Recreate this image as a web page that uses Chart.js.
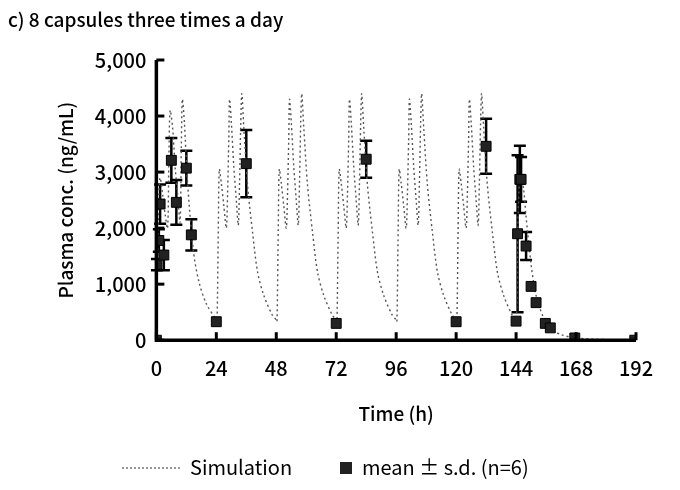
<!DOCTYPE html>
<html>
<head>
<meta charset="utf-8">
<script src="https://cdn.jsdelivr.net/npm/chart.js"></script>
<style>
  html, body { margin: 0; padding: 0; background: #fff; }
  #wrap { width: 680px; height: 490px; position: relative; }
</style>
</head>
<body>
<div id="wrap"><canvas id="pk"></canvas></div>
<script>
// Simulation, first day (h, ng/mL)
const simDay1Time = [0, 0.5, 1, 1.5, 2.5, 3.5, 4.5, 5, 5.5, 6.5, 7.5, 8.5, 9.5, 10, 10.4, 11.2, 12.5, 14.8, 17, 20, 24];
const simDay1Conc = [0, 1400, 2600, 2900, 2600, 2250, 2000, 3200, 4100, 3800, 3100, 2600, 2100, 3500, 4300, 3900, 2800, 1600, 1050, 650, 360];
// Simulation, repeated days 2-6 (time relative to day start)
const simDayTime = [0.3, 0.8, 1.2, 2, 3, 4, 4.5, 5, 5.3, 6, 7, 8, 8.8, 9.3, 9.8, 10.2, 11, 12.5, 14.5, 16.5, 19, 22.4, 24];
const simDayConc = [330, 2000, 3050, 2800, 2400, 2000, 2600, 3600, 4300, 3900, 3100, 2500, 2050, 2800, 3900, 4400, 3800, 2770, 1930, 1220, 800, 450, 360];
const simDayStarts = [24, 48, 72, 96, 120];
// Simulation, last day (absolute time)
const simTailTime = [144.5, 145, 145.8, 147, 148, 150, 152, 155, 158, 162, 168, 180, 192];
const simTailConc = [1500, 2500, 2950, 2700, 2200, 1350, 800, 400, 200, 100, 40, 10, 0];

// Observed mean ± s.d. (n=6)
const obsTime = [0, 0.25, 1, 1.5, 3, 6, 8, 12, 14, 24, 36, 72, 84, 120, 132, 144, 144.6, 145.5, 146, 148, 150, 152, 155.7, 157.7, 167.5, 191.5];
const obsMean = [0, 1350, 1780, 2430, 1520, 3210, 2460, 3070, 1880, 330, 3150, 300, 3230, 330, 3460, 340, 1900, 2870, 2870, 1680, 960, 670, 300, 220, 40, 0];
const obsSd = [0, 100, 200, 350, 270, 400, 400, 310, 280, 0, 600, 0, 330, 0, 490, 0, 1400, 600, 400, 250, 0, 0, 0, 0, 0, 0];

const xTicks = [0, 24, 48, 72, 96, 120, 144, 168, 192];
const yTicks = [0, 1000, 2000, 3000, 4000, 5000];

const simPoints = simDay1Time.map((t, i) => ({ x: t, y: simDay1Conc[i] }));
simDayStarts.forEach(d => {
  simDayTime.forEach((t, i) => simPoints.push({ x: d + t, y: simDayConc[i] }));
});
simTailTime.forEach((t, i) => simPoints.push({ x: t, y: simTailConc[i] }));

const obsPoints = obsTime.map((t, i) => ({ x: t, y: obsMean[i], sd: obsSd[i] }));

const FONT = '"Noto Sans CJK JP", "DejaVu Sans", sans-serif';

const extras = {
  id: 'extras',
  beforeDatasetsDraw(chart) {
    const { ctx, scales: { x, y } } = chart;
    ctx.save();
    ctx.strokeStyle = '#000';
    ctx.lineWidth = 2.5;
    // error bars
    obsPoints.forEach(p => {
      if (!p.sd) return;
      const px = x.getPixelForValue(p.x);
      const top = y.getPixelForValue(p.y + p.sd);
      const bot = y.getPixelForValue(Math.max(0, p.y - p.sd));
      ctx.beginPath();
      ctx.moveTo(px, top); ctx.lineTo(px, bot);
      ctx.moveTo(px - 6, top); ctx.lineTo(px + 6, top);
      ctx.moveTo(px - 6, bot); ctx.lineTo(px + 6, bot);
      ctx.stroke();
    });
    ctx.restore();
  },
  afterDraw(chart) {
    const { ctx, scales: { x, y }, chartArea: a } = chart;
    ctx.save();
    ctx.strokeStyle = '#000';
    ctx.lineWidth = 3.5;
    // axes
    ctx.beginPath();
    ctx.moveTo(a.left, y.getPixelForValue(5000));
    ctx.lineTo(a.left, a.bottom);
    ctx.lineTo(a.right, a.bottom);
    ctx.stroke();
    // inward ticks
    ctx.lineWidth = 3;
    yTicks.forEach(v => {
      const py = y.getPixelForValue(v);
      ctx.beginPath(); ctx.moveTo(a.left, py); ctx.lineTo(a.left + 8, py); ctx.stroke();
    });
    xTicks.forEach(v => {
      const px = x.getPixelForValue(v);
      ctx.beginPath(); ctx.moveTo(px, a.bottom); ctx.lineTo(px, a.bottom - 8); ctx.stroke();
    });
    // title
    ctx.fillStyle = '#000';
    ctx.font = '500 19px ' + FONT;
    ctx.textBaseline = 'middle';
    ctx.textAlign = 'left';
    ctx.fillText('c) 8 capsules three times a day', 8, 20);
    // legend
    ctx.font = '20px ' + FONT;
    ctx.lineWidth = 1.2;
    ctx.setLineDash([2, 2]);
    ctx.strokeStyle = '#555';
    ctx.beginPath(); ctx.moveTo(122, 468); ctx.lineTo(180, 468); ctx.stroke();
    ctx.setLineDash([]);
    ctx.fillText('Simulation', 190, 467);
    ctx.fillStyle = '#222';
    ctx.fillRect(340, 462, 12, 12);
    ctx.fillStyle = '#000';
    ctx.fillText('mean ± s.d. (n=6)', 362, 467);
    ctx.restore();
  }
};

new Chart(document.getElementById('pk'), {
  type: 'scatter',
  data: {
    datasets: [
      {
        label: 'Simulation',
        data: simPoints,
        showLine: true,
        borderColor: '#555',
        borderWidth: 1.4,
        borderDash: [2, 3],
        pointRadius: 0,
        tension: 0.3,
        order: 2
      },
      {
        label: 'mean ± s.d. (n=6)',
        data: obsPoints,
        pointStyle: 'rect',
        pointRadius: 7,
        backgroundColor: '#222',
        borderColor: '#000',
        borderWidth: 1,
        order: 1
      }
    ]
  },
  options: {
    responsive: true,
    maintainAspectRatio: false,
    animation: false,
    layout: { padding: { top: 60, right: 44, bottom: 61, left: 50 } },
    plugins: { legend: { display: false }, tooltip: { enabled: false } },
    scales: {
      x: {
        type: 'linear', min: 0, max: 192,
        afterBuildTicks: s => { s.ticks = xTicks.map(v => ({ value: v })); },
        grid: { display: false, drawTicks: false },
        border: { display: false },
        ticks: { color: '#000', font: { size: 20, weight: '500', family: FONT }, padding: 16 },
        title: { display: true, text: 'Time (h)', color: '#000', font: { size: 19, weight: '500', family: FONT }, padding: { top: 6 } }
      },
      y: {
        type: 'linear', min: 0, max: 5000,
        afterBuildTicks: s => { s.ticks = yTicks.map(v => ({ value: v })); },
        grid: { display: false, drawTicks: false },
        border: { display: false },
        ticks: { color: '#000', font: { size: 20, weight: '500', family: FONT }, padding: 10,
          callback: v => v.toLocaleString('en-US') },
        title: { display: true, text: 'Plasma conc. (ng/mL)', color: '#000', font: { size: 19, weight: '500', family: FONT }, padding: { bottom: 8 } }
      }
    }
  },
  plugins: [extras]
});
</script>
</body>
</html>
